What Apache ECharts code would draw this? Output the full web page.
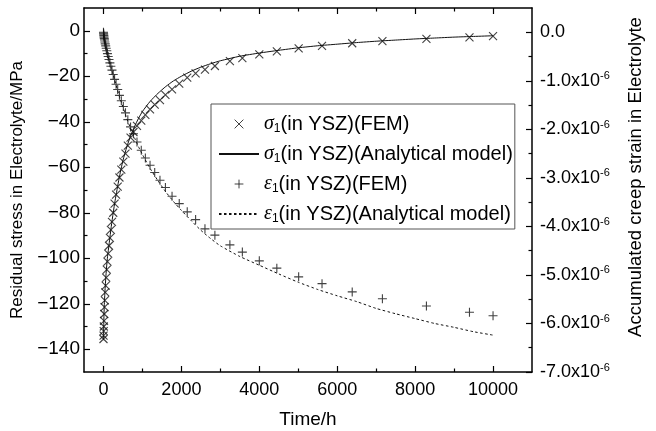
<!DOCTYPE html>
<html><head><meta charset="utf-8">
<script src="https://cdn.jsdelivr.net/npm/echarts@6/dist/echarts.min.js"></script>
<style>html,body{margin:0;padding:0;background:#fff}#c{width:656px;height:431px}</style>
</head><body><div id="c"></div>
<script>
// FEM output times (h)
const femTime = [0, 2, 5, 9, 14, 20, 27, 35, 45, 57, 70, 85, 102, 121, 142, 165, 190, 218, 250, 285, 323, 365, 410, 458, 510, 565, 625, 695, 770, 860, 970, 1075, 1195, 1315, 1450, 1590, 1760, 1945, 2150, 2365, 2605, 2860, 3245, 3565, 4000, 4450, 5010, 5610, 6385, 7160, 8290, 9395, 10000];
// sigma_1 FEM (MPa)
const femStress = [-135.5, -134, -132, -130, -127.5, -124.5, -121.5, -118.5, -115, -112, -108.5, -105, -101.5, -98, -94.5, -91, -87.5, -84, -80, -76, -72, -68.5, -64.5, -61, -57.5, -54, -50.5, -47, -44.5, -41.8, -39.5, -37, -34.6, -32.5, -30.5, -28.2, -25.8, -23.2, -20.6, -18.7, -17.1, -15.5, -13.4, -12, -10.4, -9.1, -7.7, -6.6, -5.5, -4.6, -3.6, -2.9, -2.4];
// epsilon_1 FEM (x1e-6)
const femStrain = [0, -0.02, -0.04, -0.07, -0.10, -0.13, -0.16, -0.20, -0.24, -0.28, -0.33, -0.38, -0.44, -0.50, -0.56, -0.63, -0.70, -0.78, -0.87, -0.97, -1.07, -1.18, -1.30, -1.41, -1.53, -1.66, -1.80, -1.95, -2.09, -2.26, -2.43, -2.59, -2.74, -2.89, -3.05, -3.20, -3.38, -3.53, -3.70, -3.86, -4.05, -4.18, -4.38, -4.53, -4.71, -4.86, -5.04, -5.18, -5.35, -5.49, -5.64, -5.77, -5.84];
// analytical model times (h)
const anaTime = [0, 10, 20, 40, 70, 100, 150, 200, 250, 300, 400, 500, 600, 700, 800, 900, 1000, 1200, 1400, 1600, 1800, 2000, 2250, 2500, 2750, 3000, 3500, 4000, 4500, 5000, 5500, 6000, 6500, 7000, 7500, 8000, 8500, 9000, 9500, 10000];
// sigma_1 analytical (MPa)
const anaStress = [-136, -127, -121, -114, -106, -100, -93, -86, -80, -74.5, -65, -57, -51, -46, -42, -38.5, -35.5, -31, -27.5, -24.5, -22, -20, -17.8, -16, -14.5, -13.2, -11.2, -9.8, -8.6, -7.5, -6.6, -5.9, -5.2, -4.6, -4.1, -3.6, -3.2, -2.8, -2.5, -2.2];
// epsilon_1 analytical (x1e-6)
const anaStrain = [0, -0.08, -0.13, -0.22, -0.35, -0.45, -0.60, -0.74, -0.88, -1.02, -1.30, -1.54, -1.78, -1.99, -2.18, -2.36, -2.52, -2.81, -3.06, -3.29, -3.49, -3.67, -3.88, -4.08, -4.25, -4.40, -4.62, -4.80, -4.98, -5.15, -5.30, -5.43, -5.55, -5.69, -5.80, -5.90, -6.00, -6.08, -6.17, -6.24];

const xMajor = [0, 2000, 4000, 6000, 8000, 10000];
const xMinor = [1000, 3000, 5000, 7000, 9000];
const leftMajor = [-140, -120, -100, -80, -60, -40, -20, 0];
const leftMinor = [-130, -110, -90, -70, -50, -30, -10];
const rightMajor = [-7, -6, -5, -4, -3, -2, -1, 0];
const rightMinor = [-6.5, -5.5, -4.5, -3.5, -2.5, -1.5, -0.5];

const FONT = 'Liberation Sans';
const black = '#000';
const crossPath = 'path://M0,0L10,10M10,0L0,10';
const plusPath = 'path://M5,0L5,10M0,5L10,5';
const crossIcon = 'path://M-3,-3M13,13M0,0L10,10M10,0L0,10';
const plusIcon = 'path://M-3,-3M13,13M5,0L5,10M0,5L10,5';

const legendText = {
  sFEM: '{g|σ}{s|1}(in YSZ)(FEM)',
  sAna: '{g|σ}{s|1}(in YSZ)(Analytical model)',
  eFEM: '{g|ε}{s|1}(in YSZ)(FEM)',
  eAna: '{g|ε}{s|1}(in YSZ)(Analytical model)'
};

const tickStyle = { color: black, width: 1.2 };
function frameAxis(extra) {
  return Object.assign({
    type: 'value', gridIndex: 0,
    axisLine: { show: true, onZero: false, lineStyle: { color: black, width: 1.5 } },
    splitLine: { show: false },
    axisLabel: { show: false },
    axisTick: { show: true, inside: true, length: 6, lineStyle: tickStyle }
  }, extra);
}
const noLine = { show: false, onZero: false };

const chart = echarts.init(document.getElementById('c'), null, { renderer: 'canvas' });
chart.setOption({
  animation: false,
  backgroundColor: '#fff',
  textStyle: { fontFamily: FONT },
  grid: { left: 84, right: 124, top: 8, bottom: 59, containLabel: false, outerBoundsMode: 'none' },
  xAxis: [
    frameAxis({ position: 'bottom', min: -500, max: 11000,
      axisTick: { show: true, inside: true, length: 6, customValues: xMajor, lineStyle: tickStyle },
      axisLabel: { show: true, customValues: xMajor, color: black, fontSize: 18, fontFamily: FONT, margin: 9,
        formatter: v => String(v) },
      name: 'Time/h', nameLocation: 'middle', nameGap: 38,
      nameTextStyle: { color: black, fontSize: 19, fontFamily: FONT } }),
    frameAxis({ position: 'top', min: -500, max: 11000,
      axisTick: { show: true, inside: true, length: 6, customValues: xMajor, lineStyle: tickStyle } }),
    frameAxis({ position: 'bottom', min: -500, max: 11000, axisLine: noLine,
      axisTick: { show: true, inside: true, length: 3.5, customValues: xMinor, lineStyle: tickStyle } }),
    frameAxis({ position: 'top', min: -500, max: 11000, axisLine: noLine,
      axisTick: { show: true, inside: true, length: 3.5, customValues: xMinor, lineStyle: tickStyle } })
  ],
  yAxis: [
    frameAxis({ position: 'left', min: -150, max: 10,
      axisTick: { show: true, inside: true, length: 6, customValues: leftMajor, lineStyle: tickStyle },
      axisLabel: { show: true, customValues: leftMajor, color: black, fontSize: 19, fontFamily: FONT, margin: 4,
        formatter: v => String(v).replace('-', '\u2212') },
      name: 'Residual stress in Electrolyte/MPa', nameLocation: 'middle', nameGap: 52,
      nameTextStyle: { color: black, fontSize: 17, fontFamily: FONT } }),
    frameAxis({ position: 'right', min: -7, max: 0.5,
      axisTick: { show: true, inside: true, length: 6, customValues: rightMajor, lineStyle: tickStyle },
      axisLabel: { show: true, customValues: rightMajor, color: black, fontSize: 18, fontFamily: FONT, margin: 8,
        formatter: v => (Math.abs(v) < 1e-9 ? '{m|0.0}' : '{m|' + v.toFixed(1) + 'x10}{p|-6}'),
        rich: { m: { fontSize: 18, fontFamily: FONT, color: black, lineHeight: 20 },
                p: { fontSize: 11, fontFamily: FONT, color: black, lineHeight: 12, verticalAlign: 'top' } } },
      name: 'Accumulated creep strain in Electrolyte', nameLocation: 'middle', nameGap: 94, nameRotate: 90,
      nameTextStyle: { color: black, fontSize: 18.5, fontFamily: FONT, padding: [0, 0, 0, 26] } }),
    frameAxis({ position: 'left', min: -150, max: 10, axisLine: noLine,
      axisTick: { show: true, inside: true, length: 3.5, customValues: leftMinor, lineStyle: tickStyle } }),
    frameAxis({ position: 'right', min: -7, max: 0.5, axisLine: noLine,
      axisTick: { show: true, inside: true, length: 3.5, customValues: rightMinor, lineStyle: tickStyle } })
  ],
  legend: {
    left: 211, top: 104, orient: 'vertical',
    padding: [9, 2, 4, 7], itemGap: 8, itemWidth: 40, itemHeight: 14,
    borderColor: '#555', borderWidth: 1, backgroundColor: '#fff',
    selectedMode: false,
    formatter: name => legendText[name],
    textStyle: { color: black, fontSize: 20, fontFamily: FONT, lineHeight: 22,
      rich: {
        g: { fontSize: 20, fontFamily: 'Liberation Serif', fontStyle: 'italic', color: black, lineHeight: 22 },
        s: { fontSize: 12, fontFamily: FONT, color: black, lineHeight: 12, verticalAlign: 'bottom' }
      } },
    data: [
      { name: 'sFEM', icon: crossIcon, itemStyle: { color: 'none', borderColor: '#111', borderWidth: 1 } },
      { name: 'sAna', itemStyle: { color: 'transparent', borderColor: 'transparent', borderWidth: 0 } },
      { name: 'eFEM', icon: plusIcon, itemStyle: { color: 'none', borderColor: '#111', borderWidth: 1 } },
      { name: 'eAna', itemStyle: { color: 'transparent', borderColor: 'transparent', borderWidth: 0 } }
    ]
  },
  series: [
    { name: 'sFEM', type: 'scatter', xAxisIndex: 0, yAxisIndex: 0,
      data: femTime.map((t, i) => [t, femStress[i]]),
      symbol: crossPath, symbolSize: 8,
      itemStyle: { color: 'none', borderColor: '#111', borderWidth: 1.1 }, z: 3 },
    { name: 'sAna', type: 'line', xAxisIndex: 0, yAxisIndex: 0,
      data: anaTime.map((t, i) => [t, anaStress[i]]),
      symbol: 'none', showSymbol: false, smooth: 0.2,
      lineStyle: { color: '#111', width: 1 }, itemStyle: { color: '#111' } },
    { name: 'eFEM', type: 'scatter', xAxisIndex: 0, yAxisIndex: 1,
      data: femTime.map((t, i) => [t, femStrain[i]]),
      symbol: plusPath, symbolSize: 9,
      itemStyle: { color: 'none', borderColor: '#111', borderWidth: 1.1 }, z: 3 },
    { name: 'eAna', type: 'line', xAxisIndex: 0, yAxisIndex: 1,
      data: anaTime.map((t, i) => [t, anaStrain[i]]),
      symbol: 'none', showSymbol: false, smooth: 0.2,
      lineStyle: { color: '#111', width: 1, type: [2.5, 2.5] }, itemStyle: { color: '#111' } }
  ]
});
</script></body></html>
